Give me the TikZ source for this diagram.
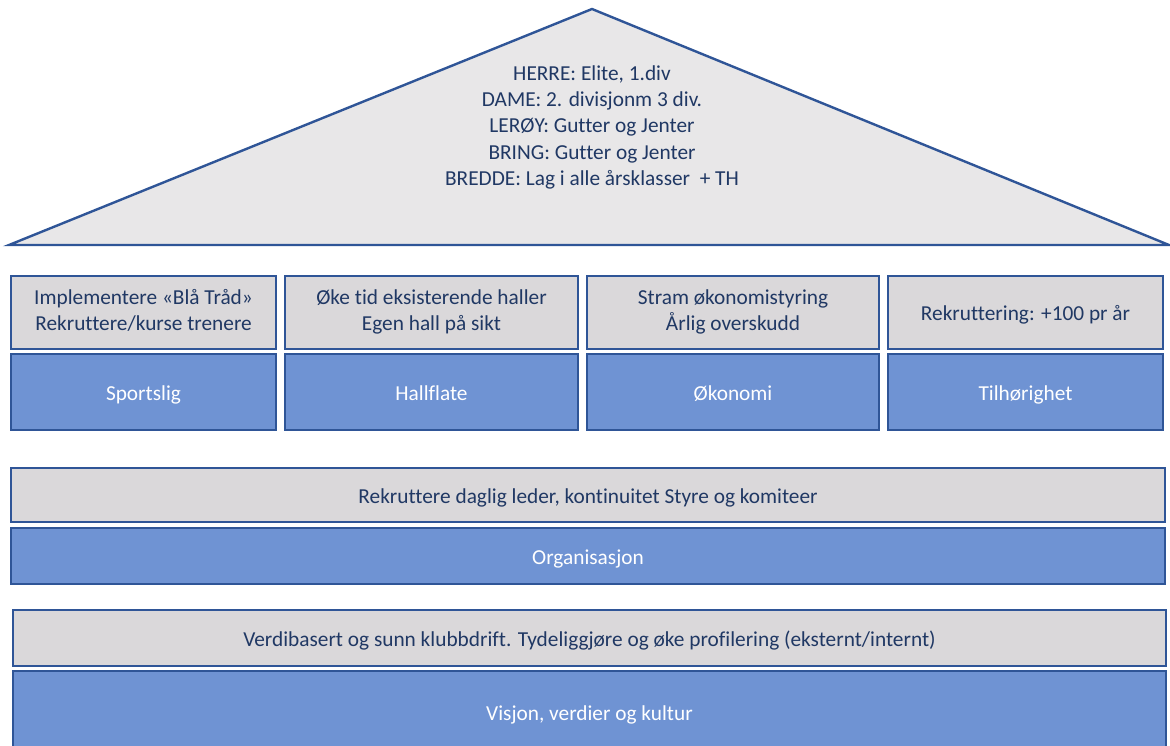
\documentclass[tikz,border=0pt]{standalone}
\usepackage{fontspec}
\setmainfont[Ligatures=NoCommon]{Carlito}
\definecolor{roofgray}{HTML}{E8E7E8}
\definecolor{boxgray}{HTML}{DAD8DA}
\definecolor{boxblue}{HTML}{6F93D3}
\definecolor{edgeblue}{HTML}{2F5597}
\definecolor{txtblue}{HTML}{203864}
\newcommand{\hsstrut}{\rule[-5bp]{0pt}{26.5bp}}
\tikzset{
  txtfont/.style={font=\fontsize{21.4}{26.5}\selectfont,
    execute at begin node=\hsstrut, execute at end node=\hsstrut},
  base/.style={draw=edgeblue, line width=2.4bp, inner sep=0pt, outer sep=0pt, align=center, txtfont},
  graybox/.style={base, fill=boxgray, text=txtblue},
  bluebox/.style={base, fill=boxblue, text=white},
}
\begin{document}
\begin{tikzpicture}[x=1bp,y=-1bp]
\useasboundingbox (0,0) rectangle (1170,746);
\clip (0,0) rectangle (1170,746);
% roof
\coordinate (apex) at (592,9);
\coordinate (bl) at (9,245);
\coordinate (br) at (1169,245);
\draw[draw=edgeblue, line width=2.4bp, fill=roofgray, line join=miter] (bl) -- (apex) -- (br) -- cycle;
\node[align=center, text=txtblue, txtfont] (rooftext) at (592,128)
  {HERRE: Elite, 1.div\\DAME: 2. divisjonm 3 div.\\LERØY: Gutter og Jenter\\BRING: Gutter og Jenter\\BREDDE: Lag i alle årsklasser\ \ + TH};
% pillars
\node[graybox, minimum width=265bp, minimum height=73bp] (g1) at (143.5,312.5) {Implementere «Blå Tråd»\\Rekruttere/kurse trenere};
\node[graybox, minimum width=293bp, minimum height=73bp] (g2) at (431.5,312.5) {Øke tid eksisterende haller\\Egen hall på sikt};
\node[graybox, minimum width=292bp, minimum height=73bp] (g3) at (733,312.5) {Stram økonomistyring\\Årlig overskudd};
\node[graybox, minimum width=275bp, minimum height=73bp] (g4) at (1025.5,312.5) {Rekruttering: +100 pr år};
\node[bluebox, minimum width=265bp, minimum height=76bp] (b1) at (143.5,392) {Sportslig};
\node[bluebox, minimum width=293bp, minimum height=76bp] (b2) at (431.5,392) {Hallflate};
\node[bluebox, minimum width=292bp, minimum height=76bp] (b3) at (733,392) {Økonomi};
\node[bluebox, minimum width=275bp, minimum height=76bp] (b4) at (1025.5,392) {Tilhørighet};
% organisation
\node[graybox, minimum width=1154bp, minimum height=54bp] (og) at (588,495) {Rekruttere daglig leder, kontinuitet Styre og komiteer};
\node[bluebox, minimum width=1154bp, minimum height=56bp] (ob) at (588,556) {Organisasjon};
% foundation
\node[graybox, minimum width=1153bp, minimum height=56bp] (fg) at (589.5,638) {Verdibasert og sunn klubbdrift. Tydeliggjøre og øke profilering (eksternt/internt)};
\node[bluebox, minimum width=1153bp, minimum height=92bp] (fb) at (589.5,717) {};
\node[text=white, txtfont] (fbt) at (589.5,712) {Visjon, verdier og kultur};
\end{tikzpicture}
\end{document}
